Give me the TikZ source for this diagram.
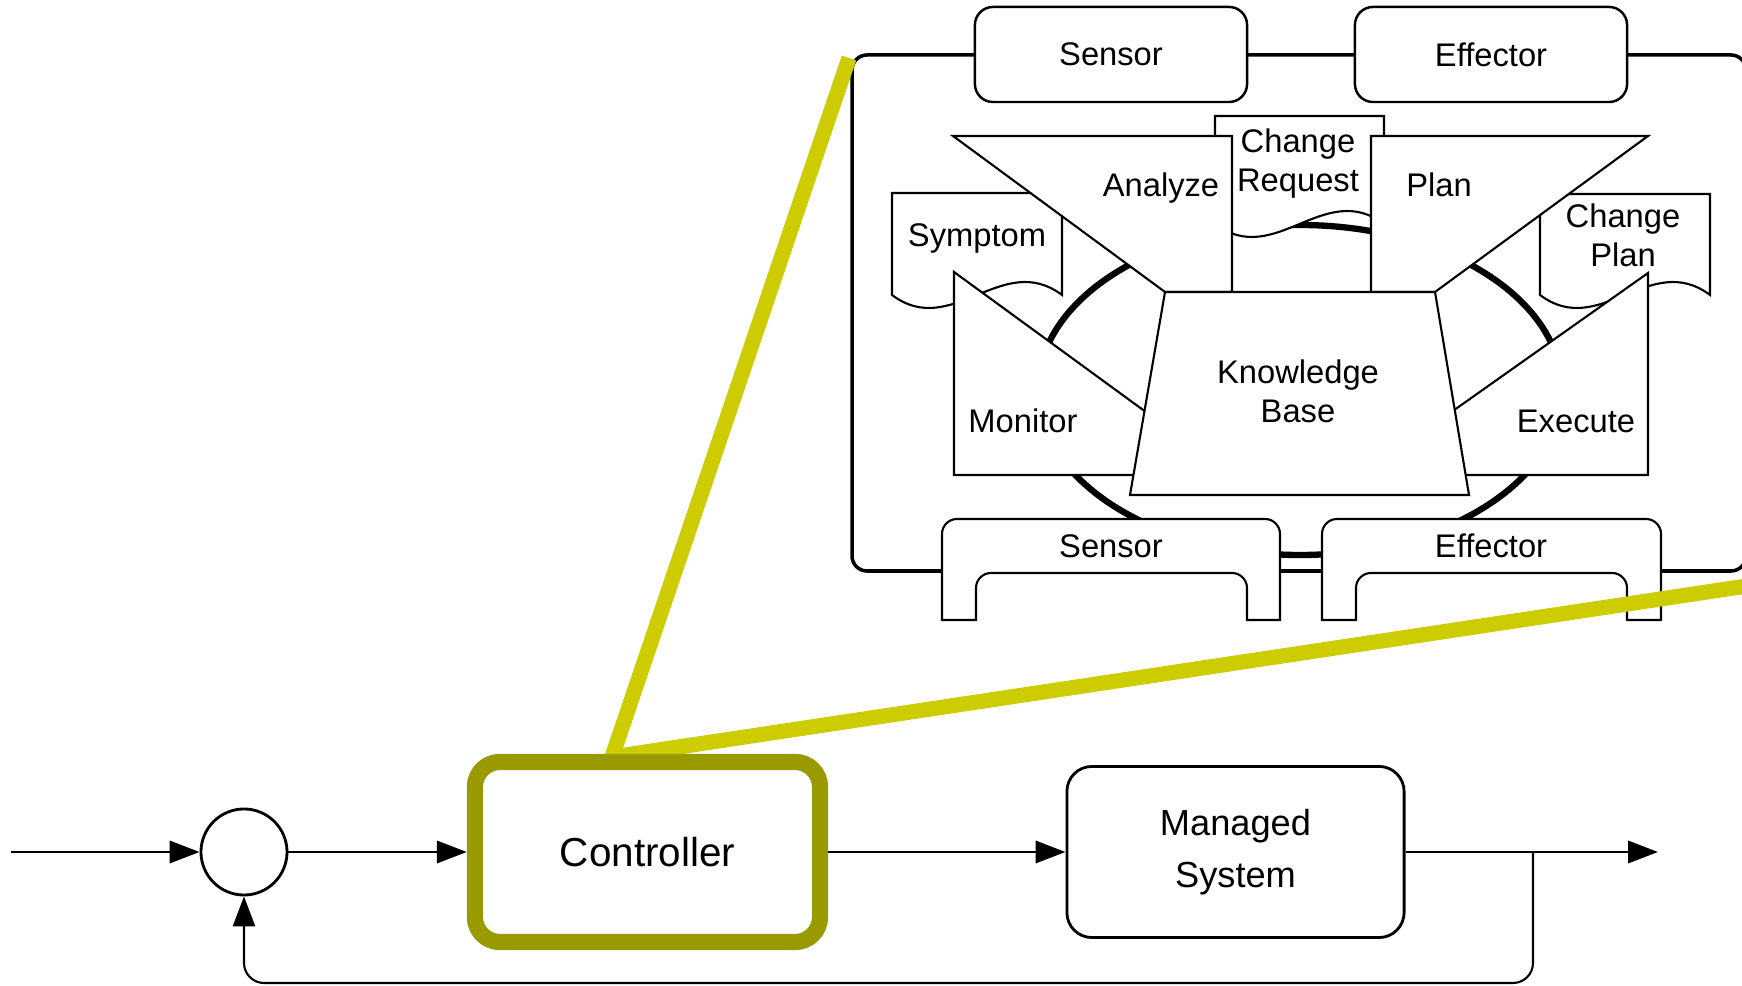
\documentclass[tikz,border=0pt]{standalone}
\usepackage{fontspec}
\setmainfont{Liberation Sans}
\usetikzlibrary{arrows.meta}
\definecolor{zoomyellow}{HTML}{CCCC00}
\definecolor{ctrlolive}{HTML}{999900}
\newcommand{\mapefont}{\fontsize{9.3}{11.3}\selectfont}
\newcommand{\docshape}[4]{\draw[mape] (#1,#3) -- (#2,#3) -- (#2,#4) .. controls (#2-60,#4-45) and (#1+60,#4+45) .. (#1,#4) -- cycle;}
\newcommand{\portshape}[4]{\draw[mape] (#1,620) -- (#1,534) arc[start angle=180,end angle=270,radius=15] -- (#4-15,519) arc[start angle=270,end angle=360,radius=15] -- (#4,620) -- (#3,620) -- (#3,588) arc[start angle=0,end angle=-90,radius=15] -- (#2+15,573) arc[start angle=270,end angle=180,radius=15] -- (#2,620) -- cycle;}

\begin{document}
\begin{tikzpicture}[x=0.01cm, y=-0.01cm, >={Triangle[length=8.5pt,width=6.3pt]},
  mape/.style={draw, fill=white, line width=0.6pt},
  tbox/.style={draw, fill=white, rounded corners=0.18cm, line width=0.7pt, minimum width=2.72cm, minimum height=0.95cm, font=\mapefont},
  lbl/.style={font=\mapefont, align=center, anchor=base},
  flow/.style={->, line width=0.85pt},
  zoomline/.style={zoomyellow, line width=4.3pt}]
\useasboundingbox (0,0) rectangle (1742,986);

% autonomic manager
\draw[line width=1pt, rounded corners=0.15cm] (852,55) rectangle (1746,571);
\draw[line width=1.8pt] (1300,390) ellipse [x radius=262, y radius=165];
\node[tbox] (sensTop) at (1111,54.5) {Sensor};
\node[tbox] (effTop) at (1491,54.5) {Effector};
\docshape{892}{1062}{193}{295}
\docshape{1215}{1384}{116}{224}
\docshape{1540}{1710}{194}{295}
\draw[mape] (953,136) -- (1232,136) -- (1232,292) -- (1165,292) -- cycle;
\draw[mape] (1371,136) -- (1648,136) -- (1435,292) -- (1371,292) -- cycle;
\draw[mape] (954,272) -- (1150,415) -- (1150,475) -- (954,475) -- cycle;
\draw[mape] (1648,273) -- (1648,475) -- (1450,475) -- (1450,413) -- cycle;
\draw[mape] (1165,292) -- (1435,292) -- (1469,495) -- (1130,495) -- cycle;
\portshape{942}{976}{1247}{1280}
\portshape{1322}{1356}{1627}{1661}
\node[lbl] (symptom) at (977,247) {Symptom};
\node[lbl] (analyze) at (1161,197) {Analyze};
\node[lbl] (request) at (1298,192) {Change\\Request};
\node[lbl] (plan) at (1439,197) {Plan};
\node[lbl] (changePlan) at (1623,267) {Change\\Plan};
\node[lbl] (knowledge) at (1298,423) {Knowledge\\Base};
\node[lbl] (monitor) at (1023,433) {Monitor};
\node[lbl] (execute) at (1576,433) {Execute};
\node[lbl] (sensBot) at (1111,558) {Sensor};
\node[lbl] (effBot) at (1491,558) {Effector};

% zoom lines
\coordinate (apex) at (612,757);
\coordinate (magL) at (849,58);
\coordinate (magR) at (1760,584);
\draw[zoomline] (apex) -- (magL);
\draw[zoomline] (apex) -- (magR);

% control loop
\coordinate (in) at (11,852);
\node[circle, draw, line width=0.8pt, minimum size=0.86cm, inner sep=0pt] (sum) at (244,852) {};
\node[draw=ctrlolive, line width=4.6pt, rounded corners=0.25cm, minimum width=3.45cm, minimum height=1.8cm, font=\fontsize{11.5}{13}\selectfont] (ctrl) at (647.5,852) {Controller};
\node[draw, line width=0.8pt, rounded corners=0.25cm, minimum width=3.37cm, minimum height=1.71cm, align=center, font=\fontsize{10.3}{14.8}\selectfont] (sys) at (1235.5,852) {Managed\\System};
\coordinate (out) at (1658,852);
\coordinate (branch) at (1533,852);
\draw[flow] (in) -- (sum);
\draw[flow] (sum) -- (ctrl);
\draw[flow] (ctrl) -- (sys);
\draw[flow] (sys) -- (out);
\draw[->, line width=0.6pt, rounded corners=0.2cm] (branch) -- (1533,983) -| (sum);
\end{tikzpicture}
\end{document}
